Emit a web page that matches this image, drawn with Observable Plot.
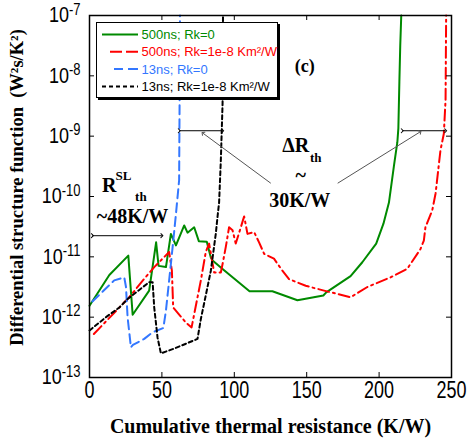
<!DOCTYPE html>
<html><head><meta charset="utf-8">
<script src="https://cdn.jsdelivr.net/npm/d3@7"></script>
<script src="https://cdn.jsdelivr.net/npm/@observablehq/plot@0.6"></script>
<style>body{margin:0;background:#fff}#chart{width:469px;height:442px}</style>
</head><body><div id="chart"></div>
<script>
// Series names / legend
const seriesNames = ["500ns; Rk=0", "500ns; Rk=1e-8 Km²/W", "13ns; Rk=0", "13ns; Rk=1e-8 Km²/W"];
const seriesColors = ["#008a00", "#ff0000", "#3377ff", "#000000"];
const seriesDash = [null, "11,4,2,4", "9,5", "4,3"];

// [cumulative thermal resistance (K/W), log10(differential structure function)]
const green = [[0,-11.81],[13.7,-11.3],[26.8,-10.98],[29.8,-11.96],[41.2,-11.56],[46,-10.76],[47.7,-11.15],[52.8,-11.17],[56.2,-10.62],[59.7,-10.81],[65.4,-10.48],[67.7,-10.6],[72.3,-10.51],[75.5,-10.74],[81,-10.75],[83.8,-11.01],[85,-11.06],[91.9,-11.2],[110.5,-11.57],[126.3,-11.57],[143.6,-11.72],[161.5,-11.64],[163.5,-11.59],[180.3,-11.32],[188.4,-11.09],[198,-10.78],[203,-10.45],[206.8,-10.1],[210.2,-9.5],[212.6,-9.1],[213.3,-8.87],[214,-8.1],[214.6,-7.5],[215.3,-7.0]];
const red = [[3,-12.28],[27.4,-11.67],[39,-11.33],[44.7,-11.17],[55,-10.92],[56.9,-11.23],[57.8,-11.84],[66.6,-12.09],[70.5,-12.17],[76.9,-11.39],[80.3,-10.92],[82.6,-10.78],[86.1,-11.26],[90.7,-11.26],[91.9,-11.12],[94.1,-10.84],[96.4,-10.51],[98.8,-10.56],[101,-10.78],[104.5,-10.51],[106.8,-10.33],[109.1,-10.62],[113.7,-10.59],[117.1,-10.76],[120.6,-10.95],[127.4,-11.03],[133.2,-11.23],[137.8,-11.37],[149.3,-11.48],[162,-11.56],[180.3,-11.67],[191.9,-11.5],[207.9,-11.34],[219.4,-11.2],[228.6,-10.87],[230.9,-10.73],[232,-10.51],[236.7,-10.23],[239,-9.95],[242.4,-9.23],[244.7,-8.96],[245.9,-8.4],[246.3,-7.0]];
const blue = [[2,-11.74],[17.1,-11.39],[24,-11.34],[25.2,-11.5],[26.3,-12.0],[28.6,-12.5],[30,-12.46],[37.8,-12.36],[43.6,-12.25],[51,-12.18],[52.8,-11.89],[55,-11.39],[57.4,-10.84],[59.7,-10.29],[61.9,-9.73],[62.2,-8.5],[62.5,-7.0]];
const black = [[0,-12.22],[11.4,-12.0],[20.6,-11.84],[26.3,-11.7],[32.1,-11.59],[41.2,-11.42],[43.6,-11.42],[44.7,-11.84],[47,-12.34],[49.3,-12.6],[57.4,-12.53],[66.6,-12.44],[74.6,-12.36],[76.9,-12.03],[80.3,-11.64],[83.8,-11.23],[87.2,-10.62],[88.4,-10.34],[89.5,-10.1],[90.7,-9.4],[91.9,-8.46],[92.2,-7.0]];
const seriesData = [green, red, blue, black];

// Ticks
const xTicks = [0, 50, 100, 150, 200, 250];
const yTickExponents = [-13, -12, -11, -10, -9, -8, -7];

// Annotations (data coordinates, log10 for y)
const doubleArrows = [{x1: 2, x2: 50, e: -10.65}, {x1: 62, x2: 92, e: -8.91}, {x1: 216, x2: 246, e: -8.91}];
const pointers = [{x1: 125.2, e1: -9.78, x2: 78.3, e2: -8.95}, {x1: 171.4, e1: -9.78, x2: 228.3, e2: -8.93}];
const bigTexts = [{t: "R", x: 13.6, e: -9.82}, {t: "~48K/W", x: 29.7, e: -10.33}, {t: "ΔR", x: 142.4, e: -9.15}, {t: "~", x: 145.9, e: -9.66}, {t: "30K/W", x: 145.2, e: -10.06}];
const smallTexts = [{t: "SL", x: 23.4, e: -9.66}, {t: "th", x: 35.5, e: -10.0}, {t: "th", x: 156.2, e: -9.36}];
const panelLabel = [{t: "(c)", x: 148.6, e: -7.84}];
const xLabel = "Cumulative thermal resistance (K/W)";
const yLabel = "Differential structure function  (W²s/K²)";

const W = 362, H = 362;
const serif = "Liberation Serif, Times New Roman, serif";
const sans = "Liberation Sans, Arial, sans-serif";

const lineMarks = seriesData.map((d, i) => Plot.line(d, {
  x: p => p[0], y: p => 10 ** p[1],
  stroke: seriesColors[i], strokeWidth: 2, strokeDasharray: seriesDash[i] ?? undefined
}));

const svg = Plot.plot({
  width: 469, height: 442,
  marginLeft: 89, marginRight: 18, marginTop: 15, marginBottom: 65,
  style: {fontFamily: sans, background: "#fff", overflow: "visible", color: "#000"},
  x: {domain: [0, 250]},
  y: {type: "log", domain: [1e-13, 1e-7]},
  marks: [
    ...lineMarks,
    Plot.tickX(xTicks, {x: d => d, insetTop: H - 5, strokeWidth: 1}),
    Plot.tickX(xTicks, {x: d => d, insetBottom: H - 5, strokeWidth: 1}),
    Plot.tickY(yTickExponents, {y: d => 10 ** d, insetRight: W - 5, strokeWidth: 1}),
    Plot.tickY(yTickExponents, {y: d => 10 ** d, insetLeft: W - 5, strokeWidth: 1}),
    Plot.frame({stroke: "#000", strokeWidth: 1.5}),
    Plot.axisX({ticks: xTicks, tickSize: 0, tickPadding: 3, fontSize: 18, label: null, tickFormat: d => String(d)}),
    Plot.axisY({ticks: yTickExponents.map(e => 10 ** e), tickSize: 0, tickPadding: 9, fontSize: 18, label: null, tickFormat: d => String(Math.round(Math.log10(d)))}),
    Plot.link(doubleArrows, {x1: "x1", x2: "x2", y1: d => 10 ** d.e, y2: d => 10 ** d.e, stroke: "#000", strokeWidth: 1, markerStart: "arrow", markerEnd: "arrow"}),
    Plot.link(pointers, {x1: "x1", x2: "x2", y1: d => 10 ** d.e1, y2: d => 10 ** d.e2, stroke: "#555", strokeWidth: 1, markerEnd: "arrow"}),
    Plot.text(bigTexts, {x: "x", y: d => 10 ** d.e, text: "t", fontFamily: serif, fontWeight: "bold", fontSize: 20, fill: "#000"}),
    Plot.text(smallTexts, {x: "x", y: d => 10 ** d.e, text: "t", fontFamily: serif, fontWeight: "bold", fontSize: 13, fill: "#000"}),
    Plot.text(panelLabel, {x: "x", y: d => 10 ** d.e, text: "t", fontFamily: serif, fontWeight: "bold", fontSize: 18, fill: "#000"}),
    Plot.text([xLabel], {text: d => d, frameAnchor: "bottom", lineAnchor: "middle", textAnchor: "middle", dy: 49, fontFamily: serif, fontWeight: "bold", fontSize: 20, fill: "#000"}),
    Plot.text([yLabel], {text: d => d, frameAnchor: "left", lineAnchor: "middle", textAnchor: "middle", rotate: -90, dx: -72, dy: -9, fontFamily: serif, fontWeight: "bold", fontSize: 18.5, fill: "#000"})
  ]
});

const ns = "http://www.w3.org/2000/svg";
// stretched tick labels, MATLAB style
svg.querySelectorAll('g[aria-label="x-axis tick label"] text').forEach(t => {
  const tr = t.getAttribute("transform") || "";
  t.setAttribute("transform", tr + " scale(1,1.35)");
});
svg.querySelectorAll('g[aria-label="y-axis tick label"] text').forEach(t => {
  const e = t.textContent; t.textContent = "";
  const a = document.createElementNS(ns, "tspan"); a.textContent = "10";
  const b = document.createElementNS(ns, "tspan"); b.textContent = e;
  b.setAttribute("dy", "-0.5em"); b.setAttribute("font-size", "13");
  t.append(a, b);
  const tr = t.getAttribute("transform") || "";
  t.setAttribute("transform", tr + " scale(1,1.2)");
});

// Legend inside the axes
const lg = d3.select(svg).append("g").attr("font-family", sans).attr("font-size", 13).attr("text-anchor", "start");
lg.append("rect").attr("x", 98).attr("y", 24).attr("width", 182).attr("height", 76).attr("fill", "#000");
lg.append("rect").attr("x", 96.5).attr("y", 22.5).attr("width", 181).attr("height", 75).attr("fill", "#fff").attr("stroke", "#000").attr("stroke-width", 1);
seriesNames.forEach((n, i) => {
  const y = 34.5 + i * 17.3;
  lg.append("line").attr("x1", 102).attr("x2", 138).attr("y1", y).attr("y2", y)
    .attr("stroke", seriesColors[i]).attr("stroke-width", 2)
    .attr("stroke-dasharray", i === 1 ? "0,8,12,4,12" : i === 2 ? "0,12,9,5,9" : seriesDash[i]);
  lg.append("text").attr("x", 141.5).attr("y", y).attr("dy", "0.36em").attr("text-anchor", "start").attr("fill", seriesColors[i]).text(n);
});

document.getElementById("chart").append(svg);
</script></body></html>
